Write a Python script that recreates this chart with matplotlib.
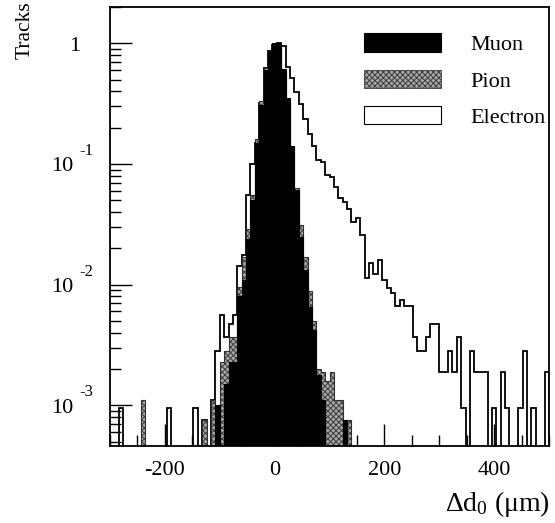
import numpy as np
import matplotlib
matplotlib.use("Agg")
import matplotlib.pyplot as plt
from matplotlib.patches import Patch
from matplotlib.ticker import MultipleLocator, LogLocator, NullFormatter
from matplotlib.transforms import blended_transform_factory, offset_copy

plt.rcParams['font.family'] = ['Liberation Serif', 'DejaVu Serif']
plt.rcParams['mathtext.fontset'] = 'custom'
plt.rcParams['mathtext.rm'] = 'Liberation Serif'
plt.rcParams['mathtext.it'] = 'Liberation Serif:italic'
plt.rcParams['hatch.linewidth'] = 0.7

# ---- data: 100 bins of 8 um from -300 to 500 ----
bin_edges = np.arange(-300, 501, 8)

electron = [
    0, 0, 0.00095, 0, 0, 0, 0, 0, 0, 0,
    0, 0, 0, 0.00095, 0, 0, 0, 0, 0, 0.00095,
    0, 0.00075, 0, 0.0011, 0.0028, 0.0056, 0.0037, 0.0047, 0.0056, 0.0142,
    0.0177, 0.055, 0.10, 0.15, 0.32, 0.62, 0.86, 0.97, 1.0, 0.945,
    0.64, 0.52, 0.395, 0.317, 0.238, 0.177, 0.14, 0.107, 0.103, 0.081,
    0.0775, 0.064, 0.052, 0.048, 0.042, 0.033, 0.036, 0.026, 0.0114, 0.0152,
    0.0122, 0.0159, 0.011, 0.0094, 0.0086, 0.0066, 0.0075, 0.0066, 0.0066, 0.0037,
    0.0028, 0.0028, 0.0037, 0.0047, 0.0047, 0.0019, 0.0019, 0.0028, 0.0019, 0.0037,
    0.00095, 0, 0.0028, 0.0019, 0.0019, 0.0019, 0, 0.00095, 0, 0.0019,
    0.00095, 0, 0, 0.00095, 0.0028, 0, 0.00095, 0, 0, 0.0019,
]

pion = [
    0, 0, 0, 0, 0, 0, 0, 0.0011, 0, 0,
    0, 0, 0, 0, 0, 0, 0, 0, 0, 0,
    0, 0.00075, 0, 0.0011, 0.0008, 0.0023, 0.0028, 0.0037, 0.0037, 0.0095,
    0.017, 0.029, 0.055, 0.16, 0.33, 0.63, 0.85, 0.97, 0.96, 0.60,
    0.34, 0.14, 0.063, 0.031, 0.017, 0.0088, 0.005, 0.002, 0.0019, 0.0016,
    0.0019, 0.0011, 0.0011, 0.0005, 0.00075, 0, 0, 0, 0, 0,
    0, 0, 0, 0, 0, 0, 0, 0, 0, 0,
    0, 0, 0, 0, 0, 0, 0, 0, 0, 0,
    0, 0, 0, 0, 0, 0, 0, 0, 0, 0,
    0, 0, 0, 0, 0, 0, 0, 0, 0, 0,
]

muon = [
    0, 0, 0, 0, 0, 0, 0, 0, 0, 0,
    0, 0, 0, 0, 0, 0, 0, 0, 0, 0,
    0.00047, 0, 0, 0, 0.001, 0, 0.0015, 0.0023, 0.0023, 0.008,
    0.011, 0.024, 0.05, 0.15, 0.31, 0.60, 0.85, 1.0, 0.98, 0.61,
    0.35, 0.14, 0.061, 0.025, 0.0133, 0.0065, 0.0042, 0.0018, 0.0011, 0,
    0, 0, 0, 0.00076, 0, 0, 0, 0, 0, 0,
    0, 0, 0, 0, 0, 0, 0, 0, 0, 0,
    0, 0, 0, 0, 0, 0, 0, 0, 0, 0,
    0, 0, 0, 0, 0, 0, 0, 0, 0, 0,
    0, 0, 0, 0, 0, 0, 0, 0, 0, 0,
]

labels = ["Muon", "Pion", "Electron"]
xtick_vals = [-200, 0, 200, 400]
ytick_vals = [1e-3, 1e-2, 1e-1, 1]
ytick_exps = ["-3", "-2", "-1", None]
x_label = "\u0394d$_{\\mathregular{0}}$ (\u03bcm)"
y_label = "Tracks"

W, H = 555, 523
fig = plt.figure(figsize=(W / 100, H / 100), dpi=100)
ax = fig.add_axes([110 / W, 1 - 446 / H, (549 - 110) / W, (446 - 7) / H])

floor = 1e-7
def fl(v):
    return np.maximum(np.asarray(v, dtype=float), floor)

# electron: white fill with black outline
ax.stairs(fl(electron), bin_edges, baseline=floor, fill=True,
          facecolor='white', edgecolor='none', zorder=1)
ax.stairs(fl(electron), bin_edges, baseline=floor, fill=False,
          color='black', linewidth=1.3, zorder=1.1)
# pion: grey textured
pion_face = '#a8a8a8'
pion_hatch = '#3c3c3c'
ax.stairs(fl(pion), bin_edges, baseline=floor, fill=True,
          facecolor=pion_face, edgecolor=pion_hatch, hatch='xxxxxx',
          linewidth=0, zorder=2)
ax.stairs(fl(pion), bin_edges, baseline=floor, fill=False,
          color='#303030', linewidth=0.8, zorder=2.1)
# muon: black
ax.stairs(fl(muon), bin_edges, baseline=floor, fill=True,
          facecolor='black', edgecolor='black', linewidth=0.8, zorder=3)

ax.set_yscale('log')
ax.set_xlim(-300, 500)
ax.set_ylim(4.6e-4, 2.0)

# ticks
ax.xaxis.set_major_locator(MultipleLocator(200))
ax.xaxis.set_minor_locator(MultipleLocator(50))
ax.set_yticks(ytick_vals)
ax.yaxis.set_minor_locator(LogLocator(base=10, subs=np.arange(2, 10)))
ax.yaxis.set_minor_formatter(NullFormatter())
ax.set_yticklabels([])
ax.tick_params(which='both', direction='in', left=True, bottom=True,
               right=False, top=False, width=1.0, labelsize=16)
ax.tick_params(which='major', length=16)
ax.tick_params(which='minor', length=8)
ax.tick_params(axis='x', which='major', pad=11)

ax.set_xticks(xtick_vals)
ax.set_xticklabels([str(v) for v in xtick_vals])

# y tick labels in ROOT style (mantissa + raised exponent)
trans = blended_transform_factory(fig.transFigure, ax.transData)
base_tr = offset_copy(trans, fig=fig, x=0, y=-7.5, units='dots')
exp_tr = offset_copy(trans, fig=fig, x=0, y=9, units='dots')
for val, ex in zip(ytick_vals, ytick_exps):
    if ex is None:
        ax.text(75 / W, val, "1", transform=base_tr, ha='center', va='baseline',
                fontsize=16, clip_on=False)
    else:
        ax.text(62 / W, val, "10", transform=base_tr, ha='center', va='baseline',
                fontsize=16, clip_on=False)
        ax.text(79 / W, val, ex, transform=exp_tr, ha='left', va='baseline',
                fontsize=12, clip_on=False)

for s in ax.spines.values():
    s.set_linewidth(1.3)

fig.text(550 / W, 1 - 511 / H, x_label, ha='right', va='baseline', fontsize=20)
fig.text(25 / W, 1 - 1 / H, y_label, rotation=90, ha='center', va='top', fontsize=15.5)

handles = [
    Patch(facecolor='black', edgecolor='black', linewidth=0.8),
    Patch(facecolor=pion_face, edgecolor=pion_hatch, hatch='xxxxxx', linewidth=0.6),
    Patch(facecolor='white', edgecolor='black', linewidth=0.8),
]
leg = ax.legend(handles, labels, loc='upper left',
                bbox_to_anchor=(364 / W, 1 - 33.5 / H), bbox_transform=fig.transFigure,
                frameon=False, fontsize=16, handlelength=3.47, handleheight=0.88,
                handletextpad=1.3, labelspacing=0.66, borderpad=0, borderaxespad=0)

fig.savefig('out.png', dpi=100)
